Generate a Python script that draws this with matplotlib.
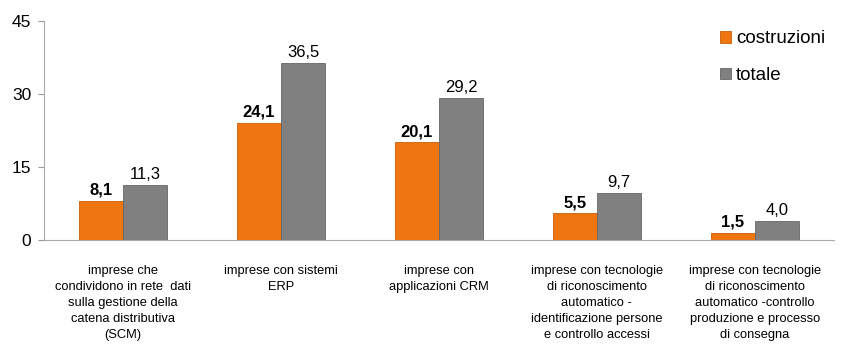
import matplotlib.pyplot as plt
import numpy as np

categories = [
    "imprese che\ncondividono in rete  dati\nsulla gestione della\ncatena distributiva\n(SCM)",
    "imprese con sistemi\nERP",
    "imprese con\napplicazioni CRM",
    "imprese con tecnologie\ndi riconoscimento\nautomatico -\nidentificazione persone\ne controllo accessi",
    "imprese con tecnologie\ndi riconoscimento\nautomatico -controllo\nproduzione e processo\ndi consegna",
]
costruzioni = [8.1, 24.1, 20.1, 5.5, 1.5]
totale = [11.3, 36.5, 29.2, 9.7, 4.0]
yticks = [0, 15, 30, 45]

plt.rcParams['font.family'] = ['Liberation Sans', 'DejaVu Sans']

ORANGE = "#ef7511"
GRAY = "#808080"

fig = plt.figure(figsize=(8.44, 3.47), dpi=100)
ax = fig.add_axes([0.052, 0.308, 0.936, 0.631])

x = np.arange(len(categories))
w = 0.28
ax.bar(x - w / 2, costruzioni, w, color=ORANGE, edgecolor="#c95f08", linewidth=0.6, label="costruzioni")
ax.bar(x + w / 2, totale, w, color=GRAY, edgecolor="#666666", linewidth=0.6, label="totale")

def fmt(v):
    return f"{v:.1f}".replace(".", ",")

for xi, v in zip(x, costruzioni):
    ax.text(xi - w / 2, v + 0.6, fmt(v), ha="center", va="bottom", fontsize=12, fontweight="bold")
for xi, v in zip(x, totale):
    ax.text(xi + w / 2, v + 0.6, fmt(v), ha="center", va="bottom", fontsize=12)

ax.set_xlim(-0.5, len(categories) - 0.5)
ax.set_ylim(0, 45)
ax.set_yticks(yticks)
ax.set_yticklabels([str(t) for t in yticks], fontsize=12.5)
ax.set_xticks(x)
ax.set_xticklabels(categories, fontsize=9.3, va="top", linespacing=1.45)
ax.tick_params(axis="x", length=0, pad=18)
ax.tick_params(axis="y", length=4, color="#999999", pad=5)

for s in ["top", "right"]:
    ax.spines[s].set_visible(False)
ax.spines["left"].set_color("#aaaaaa")
ax.spines["bottom"].set_color("#aaaaaa")

ax.legend(loc="upper right", bbox_to_anchor=(1.01, 1.035), frameon=False, fontsize=13.5,
          handlelength=0.6, handleheight=0.6, handletextpad=0.25, labelspacing=1.05)

fig.savefig("out.png", dpi=100)
